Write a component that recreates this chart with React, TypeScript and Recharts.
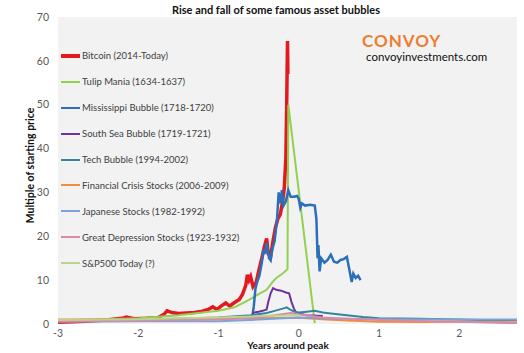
import { LineChart, Line, XAxis, YAxis, CartesianGrid } from 'recharts'

type Pt = [number, number]

// years around peak, multiple of starting price
const bitcoin: Pt[] = [
  [-3, 0.4], [-2.8, 0.5], [-2.6, 0.7], [-2.4, 0.9], [-2.2, 1.3], [-2.15, 1.6], [-2.05, 1.2], [-1.9, 1.3],
  [-1.75, 1.5], [-1.68, 2.2], [-1.64, 3.0], [-1.58, 2.6], [-1.5, 2.4], [-1.4, 2.5], [-1.3, 2.6], [-1.2, 2.9],
  [-1.12, 3.4], [-1.07, 3.9], [-1.02, 3.3], [-0.96, 4.2], [-0.91, 4.8], [-0.86, 4.1], [-0.8, 4.9], [-0.74, 5.6],
  [-0.7, 6.8], [-0.66, 8.8], [-0.64, 11.2], [-0.62, 10.0], [-0.6, 10.8], [-0.57, 8.5], [-0.53, 9.5], [-0.5, 12],
  [-0.46, 15], [-0.43, 17.5], [-0.4, 19.5], [-0.38, 16], [-0.35, 15.5], [-0.32, 19], [-0.29, 22], [-0.26, 24],
  [-0.23, 25], [-0.2, 28], [-0.18, 31], [-0.16, 38], [-0.15, 50], [-0.14, 64.5], [-0.135, 57],
]
const tulip: Pt[] = [
  [-3, 0.8], [-2.5, 1.0], [-2, 1.3], [-1.5, 2.0], [-1.2, 2.6], [-1, 3.0], [-0.8, 3.8], [-0.62, 5.5],
  [-0.5, 6.8], [-0.4, 7.8], [-0.33, 9.5], [-0.28, 10.5], [-0.2, 11.5], [-0.14, 12.5], [-0.13, 50], [0.2, 0.2],
]
const mississippi: Pt[] = [
  [-0.6, 0.8], [-0.58, 1.5], [-0.56, 4], [-0.54, 8], [-0.52, 9.5], [-0.49, 11], [-0.46, 14], [-0.44, 17],
  [-0.42, 16], [-0.4, 18.5], [-0.37, 15], [-0.35, 14.5], [-0.33, 17], [-0.3, 19], [-0.27, 24], [-0.25, 30],
  [-0.23, 27.5], [-0.21, 30.5], [-0.19, 27], [-0.16, 28], [-0.13, 30.5], [-0.1, 29], [-0.06, 29], [-0.02, 29.2],
  [0.0, 28.5], [0.02, 26.5], [0.04, 27.5], [0.08, 27], [0.14, 27.2], [0.2, 27], [0.22, 24], [0.235, 15],
  [0.245, 18], [0.26, 12], [0.28, 15], [0.32, 14], [0.36, 14.6], [0.4, 15.8], [0.44, 14.2], [0.48, 14],
  [0.52, 14.6], [0.56, 14.8], [0.6, 15.3], [0.63, 12.5], [0.66, 9.6], [0.68, 11.5], [0.71, 10.5], [0.74, 11],
  [0.77, 10],
]
const southSea: Pt[] = [
  [-0.6, 1.5], [-0.56, 2.6], [-0.5, 2.8], [-0.45, 3], [-0.4, 3.3], [-0.38, 5], [-0.35, 7], [-0.32, 8.2],
  [-0.28, 7.8], [-0.22, 7.6], [-0.16, 7.2], [-0.12, 7], [-0.09, 5], [-0.06, 3.5], [-0.03, 2.5], [0.1, 2], [0.3, 1.8],
]
const tech: Pt[] = [
  [-3, 0.8], [-2, 1.0], [-1.5, 1.2], [-1, 1.5], [-0.6, 2], [-0.4, 2.5], [-0.3, 3], [-0.2, 3.5],
  [-0.15, 3.8], [-0.1, 3.2], [-0.05, 2.8], [0, 2.6], [0.1, 2.8], [0.2, 3.0], [0.3, 2.6], [0.4, 2.4],
  [0.6, 2.0], [0.8, 1.6], [1.0, 1.3], [1.5, 1.2], [2.0, 1.0], [2.5, 0.8], [2.72, 0.9],
]
const financial: Pt[] = [
  [-3, 1], [-2, 1.1], [-1, 1.2], [-0.5, 1.3], [0, 1.4], [0.3, 1.1], [0.6, 0.8], [1, 0.5],
  [1.5, 0.45], [2, 0.5], [2.5, 0.4], [2.72, 0.4],
]
const japanese: Pt[] = [
  [-3, 0.5], [-2, 0.6], [-1, 0.6], [-0.5, 1.0], [0, 1.5], [0.5, 1.2], [1, 1.1], [2, 1.0], [2.72, 1.0],
]
const depression: Pt[] = [
  [-3, 0.6], [-2, 0.8], [-1, 1.0], [-0.5, 1.5], [-0.1, 2.5], [0, 2.2], [0.3, 1.5], [0.6, 1.2],
  [1, 0.9], [1.5, 0.7], [2, 0.5], [2.72, 0.2],
]
const sp500: Pt[] = [
  [-3, 0.9], [-2, 1.1], [-1.5, 1.3], [-1, 1.5], [-0.5, 1.8], [0, 2.0],
]

const xTicks = [-3, -2, -1, 0, 1, 2]
const yTicks = [0, 10, 20, 30, 40, 50, 60, 70]

const series = [
  { name: 'Bitcoin (2014-Today)', pts: bitcoin, color: '#e3191f', width: 3.5 },
  { name: 'Tulip Mania (1634-1637)', pts: tulip, color: '#92d050', width: 2 },
  { name: 'Mississippi Bubble (1718-1720)', pts: mississippi, color: '#2a6fb8', width: 2.5 },
  { name: 'South Sea Bubble (1719-1721)', pts: southSea, color: '#7030a0', width: 2 },
  { name: 'Tech Bubble (1994-2002)', pts: tech, color: '#31859c', width: 2 },
  { name: 'Financial Crisis Stocks (2006-2009)', pts: financial, color: '#f08c3c', width: 2 },
  { name: 'Japanese Stocks (1982-1992)', pts: japanese, color: '#7fa3d6', width: 2 },
  { name: 'Great Depression Stocks (1923-1932)', pts: depression, color: '#d98aa8', width: 2 },
  { name: 'S&P500 Today (?)', pts: sp500, color: '#b9d48c', width: 2 },
]

const font = 'Lato, "Open Sans", sans-serif'

function LegendBox() {
  return (
    <div style={{ position: 'absolute', left: 61, top: 43, fontFamily: font, fontSize: 9.5, color: '#404040' }}>
      {series.map(s => (
        <div key={s.name} style={{ height: 25.9, display: 'flex', alignItems: 'center' }}>
          <span style={{ width: 19, height: s.width > 3 ? 4 : 2, background: s.color, marginRight: 2 }} />
          <span>{s.name}</span>
        </div>
      ))}
    </div>
  )
}

export default function App() {
  return (
    <div style={{ position: 'absolute', left: 0, top: 0, width: 524, height: 353, background: '#fff', fontFamily: font }}>
      <LineChart width={524} height={353} margin={{ top: 17, right: 7, bottom: 0, left: 0 }}>
        <CartesianGrid fill="#f2f2f2" horizontal={false} vertical={false} />
        <XAxis
          type="number"
          dataKey="x"
          domain={[-3, 2.72]}
          ticks={xTicks}
          allowDataOverflow
          axisLine={false}
          tickLine={false}
          tickSize={0}
          tickMargin={6}
          height={29}
          tick={{ fill: '#595959', fontSize: 10.5, fontFamily: font }}
        />
        <YAxis
          type="number"
          dataKey="y"
          domain={[0, 70]}
          ticks={yTicks}
          axisLine={false}
          tickLine={false}
          tickSize={0}
          tickMargin={9}
          width={58}
          tick={{ fill: '#595959', fontSize: 10.5, fontFamily: font }}
          label={{
            value: 'Multiple of starting price',
            angle: -90,
            position: 'center',
            dx: 1,
            dy: -5,
            style: { fill: '#111', fontSize: 10.5, fontWeight: 700, fontFamily: font },
          }}
        />
        {series.map(s => (
          <Line
            key={s.name}
            name={s.name}
            data={s.pts.map(([x, y]) => ({ x, y }))}
            dataKey="y"
            stroke={s.color}
            strokeWidth={s.width}
            dot={false}
            activeDot={false}
            type="linear"
            isAnimationActive={false}
          />
        ))}
      </LineChart>
      <LegendBox />
      <div style={{ position: 'absolute', top: 3, left: 0, width: 552, textAlign: 'center', fontSize: 11, fontWeight: 700, color: '#111', lineHeight: '14px' }}>
        Rise and fall of some famous asset bubbles
      </div>
      <div style={{ position: 'absolute', left: 238, top: 339, width: 100, textAlign: 'center', fontSize: 10, fontWeight: 700, color: '#111', lineHeight: '12px' }}>
        Years around peak
      </div>
      <div style={{ position: 'absolute', left: 362, top: 32, fontSize: 17, fontWeight: 700, color: '#ed7d31', letterSpacing: 1, lineHeight: '18px' }}>
        CONVOY
      </div>
      <div style={{ position: 'absolute', left: 366, top: 50, fontSize: 11.5, color: '#111', lineHeight: '13px' }}>
        convoyinvestments.com
      </div>
    </div>
  )
}
